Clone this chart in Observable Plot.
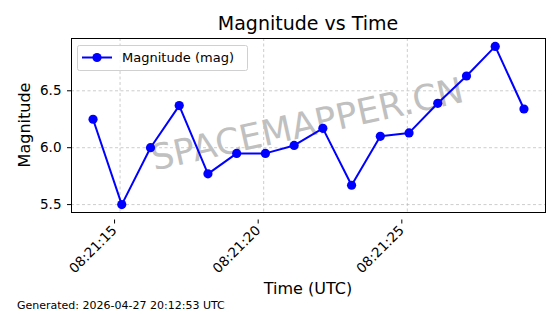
<!DOCTYPE html>
<html><head><meta charset="utf-8">
<script src="https://cdn.jsdelivr.net/npm/d3@7"></script>
<script src="https://cdn.jsdelivr.net/npm/@observablehq/plot@0.6"></script>
<style>body{margin:0;background:#fff} svg{display:block}</style>
</head><body><div id="chart"></div>
<script>
const obsDate = "2026-04-27";
const times = ["08:21:14.06","08:21:15.06","08:21:16.06","08:21:17.06","08:21:18.06","08:21:19.06","08:21:20.06","08:21:21.06",
               "08:21:22.06","08:21:23.06","08:21:24.06","08:21:25.06","08:21:26.06","08:21:27.06","08:21:28.06","08:21:29.06"];
const magnitudes = [6.25, 5.50, 6.00, 6.37, 5.77, 5.95, 5.95, 6.02, 6.17, 5.67, 6.10, 6.13, 6.39, 6.63, 6.89, 6.34];
const xTickTimes = ["08:21:15","08:21:20","08:21:25"];
const yTicks = [5.5, 6.0, 6.5];
const titleText = "Magnitude vs Time";
const xLabel = "Time (UTC)";
const yLabel = "Magnitude";
const seriesName = "Magnitude (mag)";
const watermark = "SPACEMAPPER.CN";
const footer = "Generated: 2026-04-27 20:12:53 UTC";

const toDate = t => new Date(`${obsDate}T${t}Z`);
const data = times.map((t, i) => ({time: toDate(t), mag: magnitudes[i]}));
const tickDates = xTickTimes.map(toDate);
const [t0, t1] = d3.extent(data, d => d.time);
const tp = (t1 - t0) * 0.05;
const [m0, m1] = d3.extent(magnitudes);
const mp = (m1 - m0) * 0.05;

const W = 560, H = 314, ML = 71, MR = 15, MT = 38, MB = 102;
const FONT = "DejaVu Sans, sans-serif";
const gridStyle = {stroke: "#b0b0b0", strokeOpacity: 0.8, strokeDasharray: "3,2.5", strokeWidth: 0.8};

const plot = Plot.plot({
  width: W, height: H, marginLeft: ML, marginRight: MR, marginTop: MT, marginBottom: MB,
  style: {fontFamily: FONT, fontSize: "13.5px", color: "#000", background: "#fff"},
  x: {type: "utc", domain: [new Date(+t0 - tp), new Date(+t1 + tp)]},
  y: {domain: [m0 - mp, m1 + mp]},
  marks: [
    Plot.gridX(tickDates, gridStyle),
    Plot.gridY(yTicks, gridStyle),
    Plot.text([watermark], {frameAnchor: "middle", dx: -1, dy: -0.5, rotate: -12.5, fontSize: 35.5, fill: "#c0c0c0", fontFamily: FONT}),
    Plot.line(data, {x: "time", y: "mag", stroke: "#0000ff", strokeWidth: 2}),
    Plot.dot(data, {x: "time", y: "mag", r: 4.6, fill: "#0000ff", stroke: "none"}),
    Plot.frame({stroke: "#000", strokeWidth: 1}),
    Plot.axisX(tickDates, {tickFormat: d3.utcFormat("%H:%M:%S"), tickRotate: -45, tickSize: 4, tickPadding: 4, dx: -5.5, dy: 7.5, label: null, fontSize: 13.5}),
    Plot.axisY(yTicks, {tickFormat: d3.format(".1f"), tickSize: 4, tickPadding: 6, label: null, fontSize: 13.5})
  ]
});

const svg = d3.select(plot);
const cx = (ML + W - MR) / 2;
svg.append("text").attr("x", cx).attr("y", 30).attr("text-anchor", "middle")
  .attr("font-size", 19).attr("font-family", FONT).attr("fill", "#000").text(titleText);
svg.append("text").attr("x", cx).attr("y", 294).attr("text-anchor", "middle")
  .attr("font-size", 16).attr("font-family", FONT).attr("fill", "#000").text(xLabel);
svg.append("text").attr("transform", `translate(30,${(MT + H - MB) / 2}) rotate(-90)`).attr("text-anchor", "middle")
  .attr("font-size", 16).attr("font-family", FONT).attr("fill", "#000").text(yLabel);
svg.append("text").attr("x", 17).attr("y", 308.5).attr("text-anchor", "start")
  .attr("font-size", 11).attr("font-family", FONT).attr("fill", "#000").text(footer);

const lg = svg.append("g");
lg.append("rect").attr("x", 77.5).attr("y", 45.5).attr("width", 170).attr("height", 25).attr("rx", 2)
  .attr("fill", "#fff").attr("fill-opacity", 0.8).attr("stroke", "#d0d0d0");
lg.append("line").attr("x1", 82).attr("x2", 112).attr("y1", 57.5).attr("y2", 57.5)
  .attr("stroke", "#0000ff").attr("stroke-width", 2);
lg.append("circle").attr("cx", 97).attr("cy", 57.5).attr("r", 4.6).attr("fill", "#0000ff");
lg.append("text").attr("x", 122).attr("y", 62.3).attr("text-anchor", "start").attr("font-size", 13).attr("font-family", FONT)
  .attr("fill", "#000").text(seriesName);

document.getElementById("chart").appendChild(plot);
</script>
</body></html>
